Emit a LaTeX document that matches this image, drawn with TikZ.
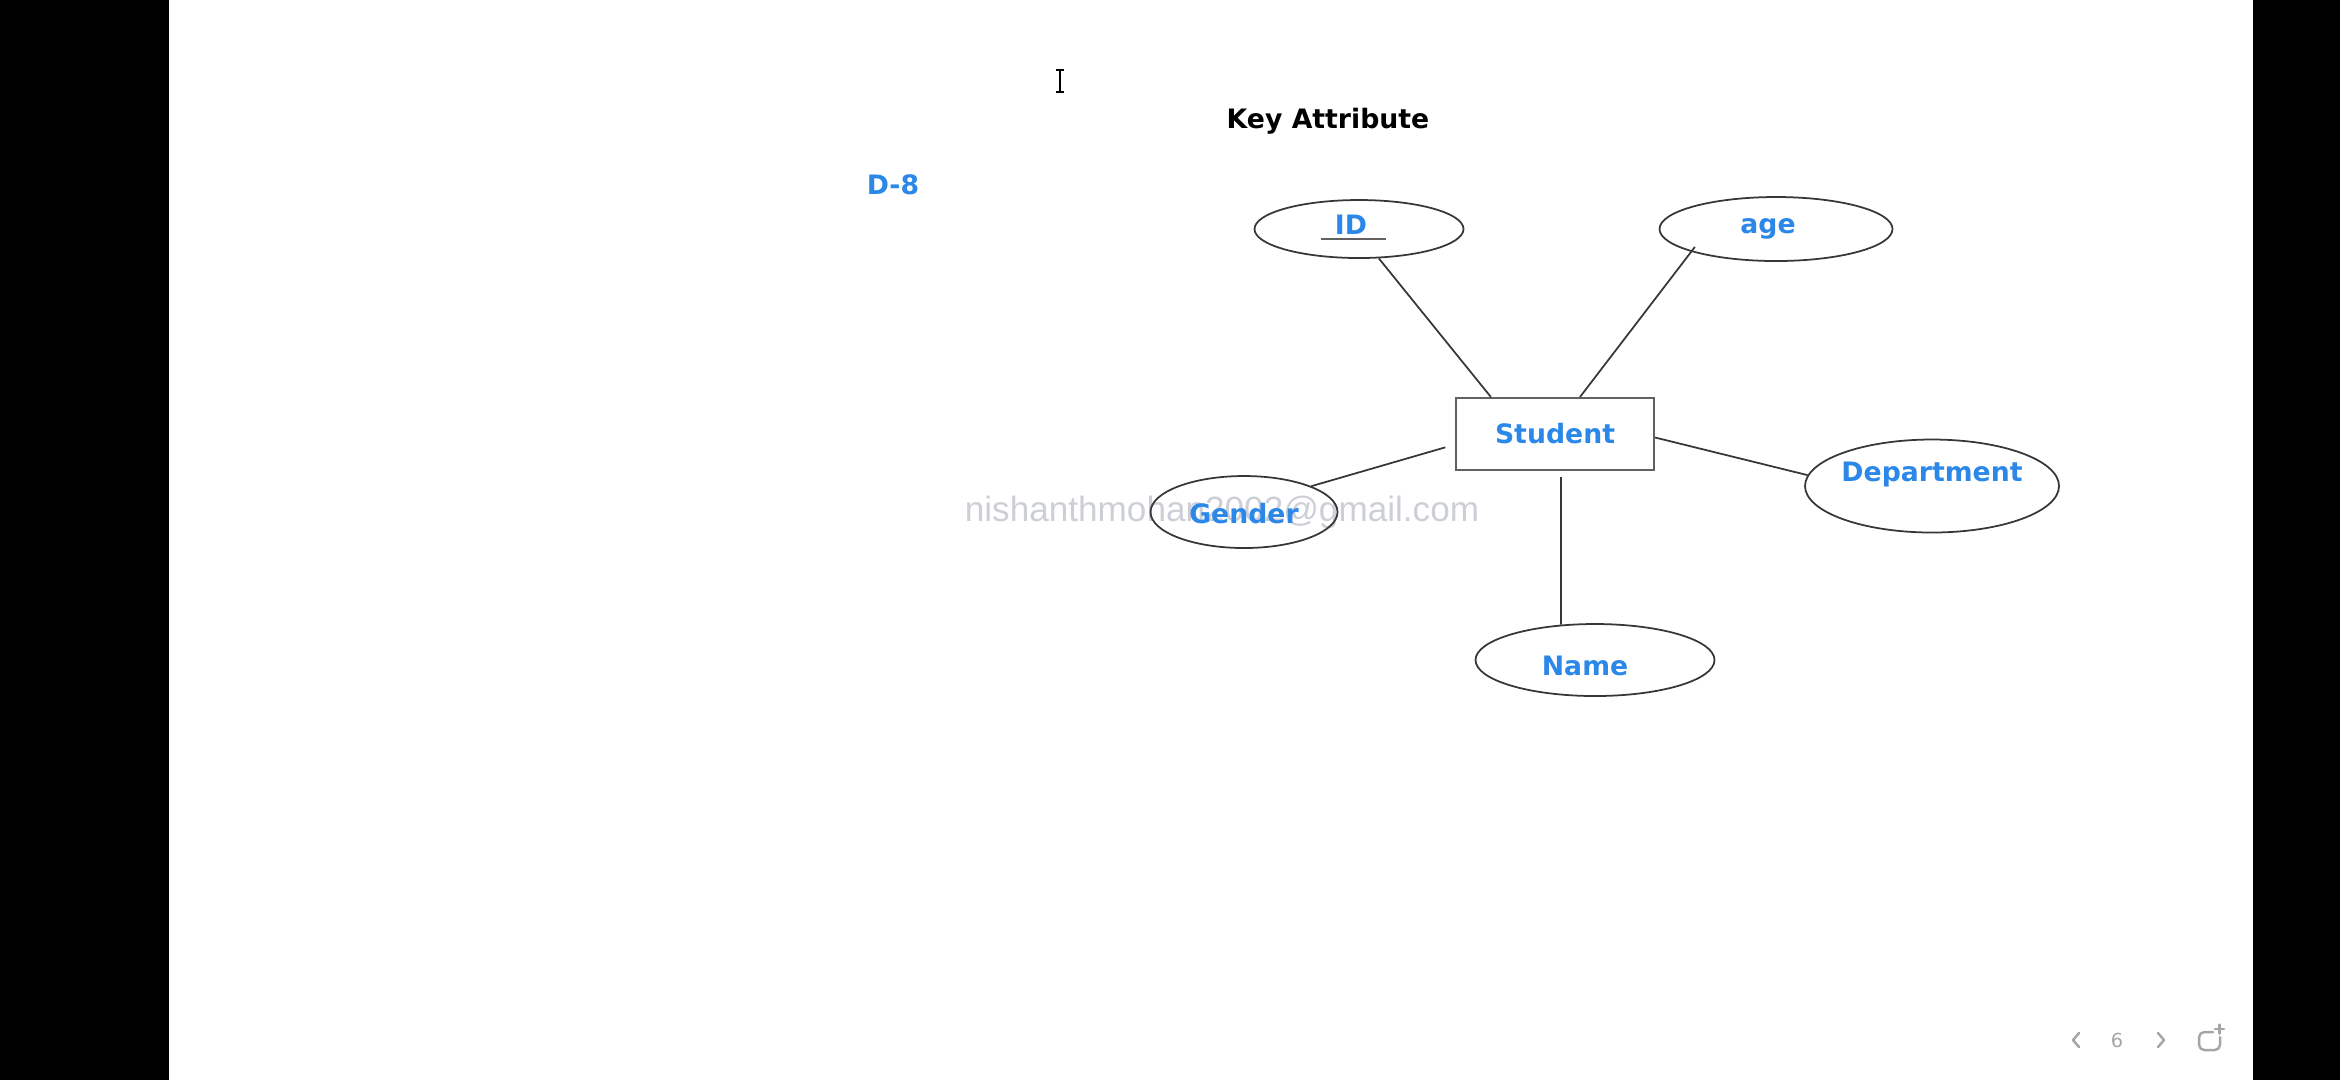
\documentclass[tikz,border=0pt]{standalone}
\usepackage{fontspec}
\setmainfont{DejaVu Sans}
\newfontfamily\markfont{Liberation Sans}
\usetikzlibrary{shapes.geometric}
\definecolor{attrblue}{RGB}{43,135,232}
\definecolor{edgegray}{RGB}{55,55,55}
\definecolor{markgray}{RGB}{205,207,214}
\definecolor{navgray}{RGB}{165,165,165}

\begin{document}
\begin{tikzpicture}[x=0.1mm,y=-0.1mm]
        % \tikzstyle{every path}=[very thick]

        \edef\labelfont{\noexpand\fontsize{7.6}{9}\noexpand\selectfont\noexpand\bfseries}
        \tikzstyle{entity}=[draw=black!62,line width=0.6pt,rectangle,minimum width=19.8mm,minimum height=7.2mm,inner sep=0pt,text=attrblue,font=\labelfont]
        \tikzstyle{attr}=[draw=edgegray,line width=0.5pt,ellipse,inner sep=0pt]
        \tikzstyle{attrtext}=[text=attrblue,font=\labelfont,inner sep=0pt]
        \tikzstyle{link}=[edgegray,line width=0.5pt]
        \tikzstyle{nav}=[navgray,line width=0.7pt,line cap=round,line join=round]

        %% Screen
        \useasboundingbox (0,0) rectangle (2340,1080);
        \fill[black] (0,0) rectangle (169,1080);
        \fill[black] (2253,0) rectangle (2340,1080);

        %% Headings
        \node [font=\labelfont,text=black,inner sep=0pt] (title) at (1328,121) {Key Attribute};
        \node [attrtext] (slide) at (893,185) {D-8};

        %% Watermark
        \node [font=\markfont\fontsize{10}{12}\selectfont,text=markgray,inner sep=0pt] (mark) at (1222,512) {nishanthmohan2002@gmail.com};

        %% Entity with its attributes
        \node [entity] (student) at (1555,434) {Student};
        \node [attr,minimum width=20.9mm,minimum height=5.8mm,label={[attrtext,xshift=-0.8mm,yshift=0.4mm]center:ID}] (id) at (1359,229) {};
        \node [attr,minimum width=23.3mm,minimum height=6.4mm,label={[attrtext,xshift=-0.8mm,yshift=0.05mm]center:age}] (age) at (1776,229) {};
        \node [attr,minimum width=25.4mm,minimum height=9.3mm,label={[attrtext,yshift=1.15mm]center:Department}] (dept) at (1932,486) {};
        \node [attr,minimum width=18.7mm,minimum height=7.2mm,label={[attrtext,yshift=-0.15mm]center:Gender}] (gender) at (1244,512) {};
        \node [attr,minimum width=23.9mm,minimum height=7.2mm,label={[attrtext,xshift=-1mm,yshift=-0.6mm]center:Name}] (name) at (1595,660) {};

        % key underline
        \draw [black!62,line width=0.6pt] (id.center) ++(-38,10) -- ++(65,0);

        \draw [link] (id.-56) -- (student.150);
        \draw [link,shorten >=-0.6mm] (student.56) -- (age.195);
        \draw [link,shorten >=1mm] (gender.21) -- (student.186);
        \draw [link] (student.-2) -- (dept.175);
        \draw [link,shorten <=0.6mm] (student.-81) -- (name.134);

        %% Cursor
        \draw [black,line width=0.5pt] (1060,70) -- (1060,92) (1056,70) -- (1064,70) (1056,92) -- (1064,92);

        %% Page controls
        \draw [nav] (2079,1033) -- (2073,1040) -- (2079,1047);
        \node [navgray,font=\fontsize{5.5}{6}\selectfont,inner sep=0pt] (page) at (2117,1040) {6};
        \draw [nav] (2158,1033) -- (2164,1040) -- (2158,1047);
        \draw [nav,rounded corners=1.5pt] (2213,1032) -- (2199,1032) -- (2199,1050) -- (2220,1050) -- (2220,1037);
        \draw [nav] (2215,1029) -- (2224,1029) (2219.5,1024.5) -- (2219.5,1033.5);
\end{tikzpicture}
\end{document}
